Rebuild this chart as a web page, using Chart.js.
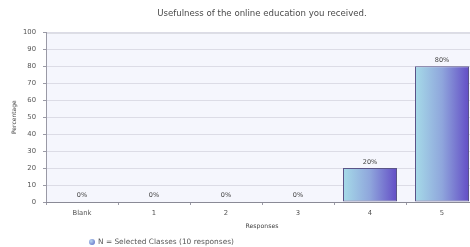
<!DOCTYPE html>
<html>
<head>
<meta charset="utf-8">
<script src="https://cdn.jsdelivr.net/npm/chart.js@4/dist/chart.umd.min.js"></script>
<style>
  html, body { margin: 0; padding: 0; background: #fff; overflow: hidden; }
  #wrap { position: relative; width: 480px; height: 247px; }
  #legend { position: absolute; left: 89px; top: 237px; font: 7.4px "DejaVu Sans", sans-serif; color: #555; display: flex; align-items: center; gap: 3px; }
  #legend .dot { width: 6px; height: 6px; border-radius: 50%; background: radial-gradient(circle at 35% 35%, #b9d6f0, #5563c4); }
</style>
</head>
<body>
<div id="wrap">
  <canvas id="chart" width="480" height="247"></canvas>
  <div id="legend"><span class="dot"></span><span id="legendText"></span></div>
</div>
<script>
// Chart data
const CATEGORIES = ['Blank', '1', '2', '3', '4', '5'];
const PERCENTS = [0, 0, 0, 0, 20, 80];
const Y_TICKS = [0, 10, 20, 30, 40, 50, 60, 70, 80, 90, 100];
const SERIES_LABEL = 'N = Selected Classes (10 responses)';

const FONT = '"DejaVu Sans", Verdana, sans-serif';

document.getElementById('legendText').textContent = SERIES_LABEL;

// plot area background
const plotBg = {
  id: 'plotBg',
  beforeDraw(chart) {
    const { ctx, chartArea: a } = chart;
    ctx.save();
    ctx.fillStyle = '#f5f6fd';
    ctx.fillRect(a.left, a.top, a.right - a.left, a.bottom - a.top);
    ctx.strokeStyle = '#a8a8b4';
    ctx.lineWidth = 1;
    ctx.beginPath();
    ctx.moveTo(a.left, a.top + 0.5);
    ctx.lineTo(a.right, a.top + 0.5);
    ctx.stroke();
    ctx.restore();
  }
};

// value labels above bars
const valueLabels = {
  id: 'valueLabels',
  afterDatasetsDraw(chart) {
    const { ctx } = chart;
    const meta = chart.getDatasetMeta(0);
    ctx.save();
    ctx.font = '6.5px ' + FONT;
    ctx.fillStyle = '#444';
    ctx.textAlign = 'center';
    ctx.textBaseline = 'bottom';
    meta.data.forEach((bar, i) => {
      ctx.fillText(PERCENTS[i] + '%', bar.x, bar.y - 3);
    });
    ctx.restore();
  }
};

function barGradient(c) {
  const chart = c.chart;
  const xs = chart.scales.x;
  if (!xs || !chart.chartArea) return '#8fa0dc';
  const cx = xs.getPixelForValue(c.dataIndex);
  const half = (xs.width / CATEGORIES.length) * 0.75 / 2;
  const g = chart.ctx.createLinearGradient(cx - half, 0, cx + half, 0);
  g.addColorStop(0, '#a6dbe8');
  g.addColorStop(0.5, '#8fa6dc');
  g.addColorStop(1, '#634dc6');
  return g;
}

new Chart(document.getElementById('chart'), {
  type: 'bar',
  data: {
    labels: CATEGORIES,
    datasets: [{
      label: SERIES_LABEL,
      data: PERCENTS,
      backgroundColor: barGradient,
      borderColor: '#5a5488',
      borderWidth: 1,
      borderSkipped: false,
      categoryPercentage: 1,
      barPercentage: 0.75,
    }],
  },
  options: {
    responsive: false,
    animation: false,
    layout: { padding: { left: 0, right: 2, top: 0, bottom: 17 } },
    plugins: {
      legend: { display: false },
      tooltip: { enabled: false },
      title: {
        display: true,
        fullSize: false,
        text: 'Usefulness of the online education you received.',
        color: '#4a4a4a',
        font: { family: FONT, size: 8.6, weight: 'normal' },
        padding: { top: 9, bottom: 13 },
      },
    },
    scales: {
      y: {
        min: 0,
        max: 100,
        afterBuildTicks: s => { s.ticks = Y_TICKS.map(v => ({ value: v })); },
        afterFit: s => { s.width = 46; },
        border: { color: '#9a9aa6' },
        grid: { color: '#dcdce6', tickLength: 3, tickColor: '#9a9aa6' },
        ticks: { color: '#555', padding: 7, font: { family: FONT, size: 6.8 } },
        title: { display: true, text: 'Percentage', color: '#444', padding: { top: 11, bottom: 0 }, font: { family: FONT, size: 6 } },
      },
      x: {
        afterFit: s => { s.height = 28; },
        border: { color: '#8a8a96' },
        grid: { drawOnChartArea: false, tickLength: 3, color: '#9a9aa6' },
        ticks: { color: '#555', padding: 4, font: { family: FONT, size: 6.8 } },
        title: { display: true, text: 'Responses', color: '#444', padding: { top: 2, bottom: 0 }, font: { family: FONT, size: 6.2 } },
      },
    },
  },
  plugins: [plotBg, valueLabels],
});
</script>
</body>
</html>
